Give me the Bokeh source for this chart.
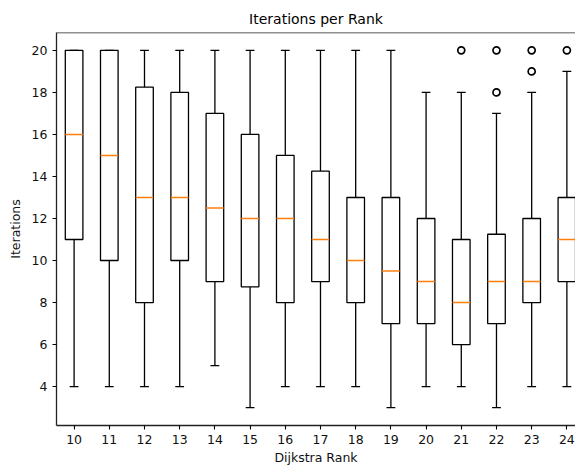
import numpy as np
from bokeh.plotting import figure
from bokeh.models import FixedTicker, Span, Range1d
from bokeh.embed import file_html
from bokeh.resources import INLINE

ranks = [10, 11, 12, 13, 14, 15, 16, 17, 18, 19, 20, 21, 22, 23, 24]
q1 = [11, 10, 8, 10, 9, 8.75, 8, 9, 8, 7, 7, 6, 7, 8, 9]
median = [16, 15, 13, 13, 12.5, 12, 12, 11, 10, 9.5, 9, 8, 9, 9, 11]
q3 = [20, 20, 18.25, 18, 17, 16, 15, 14.25, 13, 13, 12, 11, 11.25, 12, 13]
whisker_lo = [4, 4, 4, 4, 5, 3, 4, 4, 4, 3, 4, 4, 3, 4, 4]
whisker_hi = [20, 20, 20, 20, 20, 20, 20, 20, 20, 20, 18, 18, 17, 18, 19]
outlier_rank = [21, 22, 22, 23, 23, 24]
outlier_val = [20, 20, 18, 20, 19, 20]

FONT = "DejaVu Sans"
LW = 1.3
x = np.array(ranks, dtype=float)

p = figure(width=575, height=468, output_backend="svg", toolbar_location=None,
           title="Iterations per Rank",
           x_range=Range1d(9.5, 24.245), y_range=Range1d(2.15, 20.85),
           min_border_left=56, min_border_right=0, min_border_top=32, min_border_bottom=43)
p.background_fill_color = "white"
p.border_fill_color = "white"
p.outline_line_color = None
p.grid.visible = False

p.title.align = "center"
p.title.text_font = FONT
p.title.text_font_style = "normal"
p.title.text_font_size = "14px"
p.title.text_color = "black"
p.title.offset = 8
p.title.standoff = 12

# whiskers
p.segment(x0=x, y0=whisker_lo, x1=x, y1=q1, line_color="black", line_width=LW)
p.segment(x0=x, y0=q3, x1=x, y1=whisker_hi, line_color="black", line_width=LW)
# caps
p.segment(x0=x - 0.125, y0=whisker_lo, x1=x + 0.125, y1=whisker_lo, line_color="black", line_width=LW)
p.segment(x0=x - 0.125, y0=whisker_hi, x1=x + 0.125, y1=whisker_hi, line_color="black", line_width=LW)
# boxes
p.vbar(x=x, width=0.5, bottom=q1, top=q3, fill_color="white", line_color="black", line_width=LW)
# medians
p.segment(x0=x - 0.25, y0=median, x1=x + 0.25, y1=median, line_color="#ff7f0e", line_width=1.4)
# outliers
p.scatter(x=outlier_rank, y=outlier_val, marker="circle", size=7, fill_color=None,
          line_color="black", line_width=1.7)

# top spine
p.add_layout(Span(location=20.85, dimension="width", line_color="#222222", line_width=LW))

for ax in (p.xaxis[0], p.yaxis[0]):
    ax.axis_line_color = "#222222"
    ax.axis_line_width = LW
    ax.major_tick_line_color = "black"
    ax.major_tick_line_width = 1.1
    ax.major_tick_in = 0
    ax.major_tick_out = 4
    ax.minor_tick_line_color = None
    ax.major_label_text_font = FONT
    ax.major_label_text_font_size = "12.5px"
    ax.major_label_text_color = "#111111"
    ax.axis_label_text_font = FONT
    ax.axis_label_text_font_size = "12.5px"
    ax.axis_label_text_font_style = "normal"
    ax.axis_label_text_color = "#111111"

p.xaxis.ticker = FixedTicker(ticks=ranks)
p.yaxis.ticker = FixedTicker(ticks=[4, 6, 8, 10, 12, 14, 16, 18, 20])
p.xaxis.axis_label = "Dijkstra Rank"
p.yaxis.axis_label = "Iterations"
p.xaxis.axis_label_standoff = 3
p.yaxis.axis_label_standoff = 6
p.xaxis.major_label_standoff = 5
p.yaxis.major_label_standoff = 5

open("out.html", "w").write(file_html(p, INLINE))
